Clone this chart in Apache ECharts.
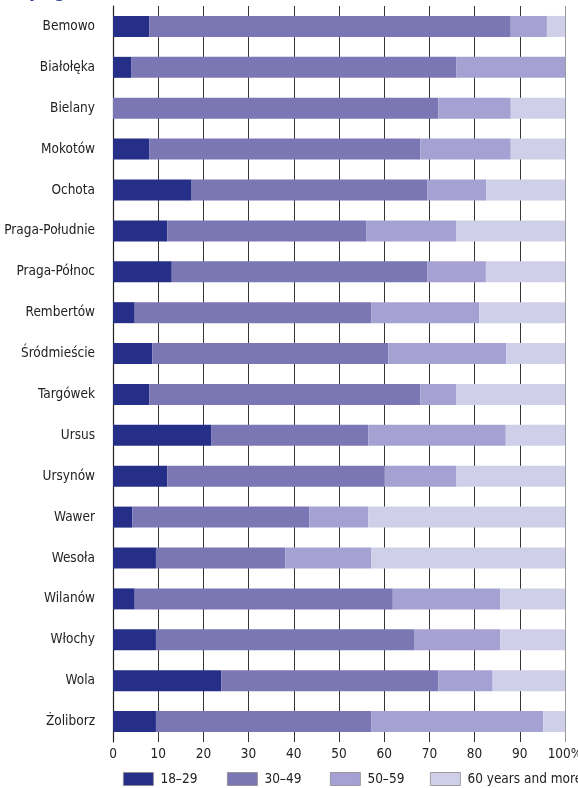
<!DOCTYPE html>
<html>
<head>
<meta charset="utf-8">
<script src="https://cdn.jsdelivr.net/npm/echarts@6/dist/echarts.min.js"></script>
<style>
  html, body { margin: 0; padding: 0; background: #fff; }
  #chart { width: 578px; height: 788px; }
</style>
</head>
<body>
<div id="chart"></div>
<script>
const districts = [
    'Bemowo', 'Białołęka', 'Bielany', 'Mokotów', 'Ochota', 'Praga-Południe',
    'Praga-Północ', 'Rembertów', 'Śródmieście', 'Targówek', 'Ursus', 'Ursynów',
    'Wawer', 'Wesoła', 'Wilanów', 'Włochy', 'Wola', 'Żoliborz'
];

const age18to29 = [8, 4, 0, 8, 17.4, 12, 13.0, 4.8, 8.7, 8, 21.7, 12, 4.3, 9.5, 4.8, 9.5, 24, 9.5];
const age30to49 = [80, 72, 72, 60, 52.2, 44, 56.5, 52.4, 52.2, 60, 34.8, 48, 39.1, 28.6, 57.1, 57.1, 48, 47.6];
const age50to59 = [8, 24, 16, 20, 13.0, 20, 13.0, 23.8, 26.1, 8, 30.4, 16, 13.1, 19.0, 23.8, 19.1, 12, 38.1];
const age60plus = [4, 0, 12, 12, 17.4, 24, 17.5, 19.0, 13.0, 24, 13.1, 24, 43.5, 42.9, 14.3, 14.3, 16, 4.8];

const seriesNames = ['18–29', '30–49', '50–59', '60 years and more'];
const seriesColors = ['#262f88', '#7b77b5', '#a5a2d3', '#d0cfea'];

const font = '"DejaVu Sans Condensed", sans-serif';

const chart = echarts.init(document.getElementById('chart'));

// last vertical line (100%) is lighter in the original
const gridColors = ['#333', '#333', '#333', '#333', '#333', '#333', '#333', '#333', '#333', '#333', '#9a9a9a'];
const legendLefts = [123, 227, 330, 430];

chart.setOption({
    animation: false,
    title: {
        text: 'by age',
        left: 18,
        top: -16,
        padding: 0,
        textStyle: { color: '#2a3990', fontSize: 17, fontWeight: 'bold', fontFamily: font }
    },
    grid: { left: 113, right: 13, top: 6, bottom: 46, containLabel: false, outerBoundsMode: 'none' },
    legend: seriesNames.map((name, i) => ({
        left: legendLefts[i],
        top: 772,
        padding: 0,
        itemWidth: 30,
        itemHeight: 13,
        icon: 'rect',
        itemStyle: { borderColor: '#8a8a8a', borderWidth: 0.8 },
        textStyle: { fontFamily: font, fontSize: 13.5, color: '#222', padding: [0, 0, 0, 2] },
        data: [name]
    })),
    xAxis: {
        type: 'value',
        min: 0,
        max: 100,
        interval: 10,
        axisLine: { show: false },
        axisTick: { show: false },
        splitLine: { show: true, lineStyle: { color: gridColors, width: 1 } },
        axisLabel: {
            margin: 5,
            fontFamily: font,
            fontSize: 13.5,
            color: '#222',
            formatter: (v) => (v === 100 ? '100%' : String(v))
        }
    },
    yAxis: {
        type: 'category',
        inverse: true,
        data: districts,
        axisLine: { show: true, lineStyle: { color: '#222', width: 1.2 } },
        axisTick: { show: false },
        axisLabel: { margin: 18, fontFamily: font, fontSize: 13.5, color: '#222' }
    },
    series: [age18to29, age30to49, age50to59, age60plus].map((values, i) => ({
        name: seriesNames[i],
        type: 'bar',
        stack: 'total',
        barWidth: 21,
        itemStyle: { color: seriesColors[i] },
        data: values
    }))
});
</script>
</body>
</html>
